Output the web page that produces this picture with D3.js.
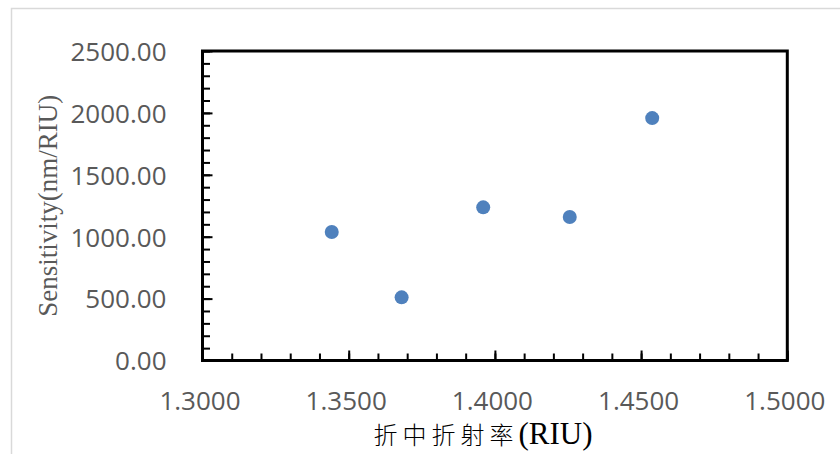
<!DOCTYPE html>
<html>
<head>
<meta charset="utf-8">
<script src="https://cdn.jsdelivr.net/npm/d3@7"></script>
<style>
  body { margin: 0; background: #fff; }
  .tick text { font-family: "Open Sans", sans-serif; font-size: 26px; fill: #595959; }
</style>
</head>
<body>
<div id="chart"></div>
<script>
// data
const refractiveIndex = [1.3442, 1.3681, 1.3960, 1.4256, 1.4538];
const sensitivity = [1038, 510, 1237, 1159, 1958];
const xTicks = [1.30, 1.35, 1.40, 1.45, 1.50];
const yTicks = [0, 500, 1000, 1500, 2000, 2500];
const xTitleCjk = "折中折射率";
const xTitleLatin = "(RIU)";
const yTitle = "Sensitivity(nm/RIU)";

const width = 840;
const height = 454;
const margin = { top: 51, right: 52.7, bottom: 93.5, left: 202.5 };

const svg = d3
  .select("#chart")
  .append("svg")
  .attr("width", width)
  .attr("height", height);

svg.append("rect").attr("width", width).attr("height", height).attr("fill", "#fff");

// outer chart area frame
svg
  .append("rect")
  .attr("x", 11.5)
  .attr("y", 8.5)
  .attr("width", 900)
  .attr("height", 600)
  .attr("fill", "none")
  .attr("stroke", "#d9d9d9")
  .attr("stroke-width", 1.5);

const x = d3.scaleLinear().domain([1.3, 1.5]).range([margin.left, width - margin.right]);
const y = d3.scaleLinear().domain([0, 2500]).range([height - margin.bottom, margin.top]);

// minor ticks
const xMinor = d3.range(1.30, 1.5001, 0.01);
const yMinor = d3.range(0, 2501, 100);
svg
  .append("g")
  .attr("transform", `translate(0, ${y(0)})`)
  .call(d3.axisBottom(x).tickValues(xMinor).tickSize(-7).tickFormat(""))
  .call((g) => g.select(".domain").remove())
  .selectAll("line")
  .attr("stroke", "#000")
  .attr("stroke-width", 2);
svg
  .append("g")
  .attr("transform", `translate(${x(1.3)}, 0)`)
  .call(d3.axisLeft(y).tickValues(yMinor).tickSize(-7.5).tickFormat(""))
  .call((g) => g.select(".domain").remove())
  .selectAll("line")
  .attr("stroke", "#000")
  .attr("stroke-width", 2);

// major ticks + labels
const gx = svg
  .append("g")
  .attr("transform", `translate(0, ${y(0)})`)
  .call(d3.axisBottom(x).tickValues(xTicks).tickSize(-10).tickFormat(d3.format(".4f")))
  .call((g) => g.select(".domain").remove());
gx.selectAll("line").attr("stroke", "#000").attr("stroke-width", 2);
gx.selectAll("text").attr("y", 31).attr("dy", "0.71em").attr("dx", -3);

const gy = svg
  .append("g")
  .attr("transform", `translate(${x(1.3)}, 0)`)
  .call(d3.axisLeft(y).tickValues(yTicks).tickSize(-10).tickFormat(d3.format(".2f")))
  .call((g) => g.select(".domain").remove());
gy.selectAll("line").attr("stroke", "#000").attr("stroke-width", 2);
gy.selectAll("text").attr("x", -36).attr("dy", "0.36em");

// plot frame
svg
  .append("rect")
  .attr("x", x(1.3))
  .attr("y", y(2500))
  .attr("width", x(1.5) - x(1.3))
  .attr("height", y(0) - y(2500))
  .attr("fill", "none")
  .attr("stroke", "#000")
  .attr("stroke-width", 3);

// points
svg
  .selectAll(".dot")
  .data(refractiveIndex.map((d, i) => ({ x: d, y: sensitivity[i] })))
  .enter()
  .append("circle")
  .attr("class", "dot")
  .attr("cx", (d) => x(d.x))
  .attr("cy", (d) => y(d.y))
  .attr("r", 7)
  .attr("fill", "#4f81bd");

// axis titles
const xt = svg
  .append("text")
  .attr("x", 483)
  .attr("y", 444)
  .attr("text-anchor", "middle")
  .attr("fill", "#000");
xt.append("tspan")
  .attr("font-family", "'Noto Sans CJK SC', sans-serif")
  .attr("font-size", 24)
  .attr("font-weight", 300)
  .attr("letter-spacing", 5)
  .text(xTitleCjk);
xt.append("tspan")
  .attr("font-family", "'Liberation Serif', serif")
  .attr("font-size", 31)
  .text(xTitleLatin);

svg
  .append("text")
  .attr("transform", `translate(57, ${(y(0) + y(2500)) / 2}) rotate(-90)`)
  .attr("text-anchor", "middle")
  .attr("font-family", "'Liberation Serif', serif")
  .attr("font-size", 27)
  .attr("fill", "#595959")
  .text(yTitle);
</script>
</body>
</html>
